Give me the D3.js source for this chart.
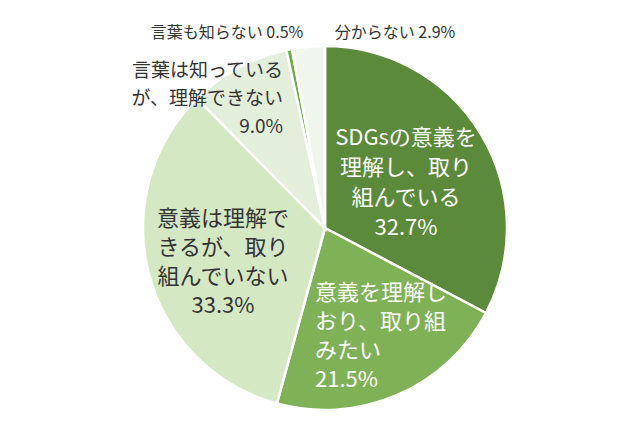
<!DOCTYPE html>
<html>
<head>
<meta charset="utf-8">
<script src="https://cdn.jsdelivr.net/npm/d3@7"></script>
<style>
  body { margin: 0; background: #fff; }
  text { font-family: "Noto Sans CJK JP", sans-serif; }
</style>
</head>
<body>
<div id="chart"></div>
<script>
// answers, clockwise from 12 o'clock
const categories = [
    'SDGsの意義を理解し、取り組んでいる',
    '意義を理解しおり、取り組みたい',
    '意義は理解できるが、取り組んでいない',
    '言葉は知っているが、理解できない',
    '言葉も知らない',
    '分からない'
];
const shares = [32.7, 21.5, 33.3, 9.0, 0.5, 2.9];
const sliceColors = ['#5b8a3a', '#7fb257', '#d5e8c4', '#e3efda', '#6fad47', '#f0f6ec'];

// label lines as drawn in the picture
const labelLines = [
    ['SDGsの意義を', '理解し、取り', '組んでいる', '32.7%'],
    ['意義を理解し', 'おり、取り組', 'みたい', '21.5%'],
    ['意義は理解で', 'きるが、取り', '組んでいない', '33.3%'],
    ['言葉は知っている', 'が、理解できない', '9.0%'],
    ['言葉も知らない 0.5%'],
    ['分からない 2.9%']
];

const width = 630, height = 430;
const cx = 325, cy = 228, radius = 182;

// where each label block sits (x, first line y, anchor, size, line gap, color)
const labelLayout = [
    { x: 406, y: 135, anchor: 'middle', size: 22, gap: 30, fill: '#fff' },
    { x: 315, y: 290, anchor: 'start', size: 22, gap: 29, fill: '#fff' },
    { x: 223, y: 216, anchor: 'middle', size: 22, gap: 29, fill: '#333' },
    { x: 283, y: 68, anchor: 'end', size: 19, gap: 28, fill: '#333' },
    { x: 227, y: 31, anchor: 'middle', size: 16, gap: 0, fill: '#333' },
    { x: 395, y: 31, anchor: 'middle', size: 16, gap: 0, fill: '#333' }
];

const svg = d3.select('#chart')
    .append('svg')
    .attr('width', width)
    .attr('height', height);

const pie = d3.pie().sort(null).value(d => d);
const arc = d3.arc().innerRadius(0).outerRadius(radius);

const g = svg.append('g').attr('transform', `translate(${cx},${cy})`);

g.selectAll('.slice')
    .data(pie(shares))
    .enter().append('path')
    .attr('class', 'slice')
    .attr('d', arc)
    .attr('fill', (d, i) => sliceColors[i])
    .attr('stroke', '#fff')
    .attr('stroke-width', 2.5)
    .append('title')
    .text((d, i) => categories[i] + ' ' + shares[i] + '%');

const labels = svg.selectAll('.label')
    .data(labelLines)
    .enter().append('text')
    .attr('class', 'label')
    .attr('text-anchor', (d, i) => labelLayout[i].anchor)
    .attr('font-size', (d, i) => labelLayout[i].size)
    .attr('fill', (d, i) => labelLayout[i].fill);

labels.each(function (lines, i) {
    const lay = labelLayout[i];
    d3.select(this).selectAll('tspan')
        .data(lines)
        .enter().append('tspan')
        .attr('x', lay.x)
        .attr('y', (t, j) => lay.y + j * lay.gap)
        .attr('dominant-baseline', 'central')
        .text(t => t);
});
</script>
</body>
</html>
